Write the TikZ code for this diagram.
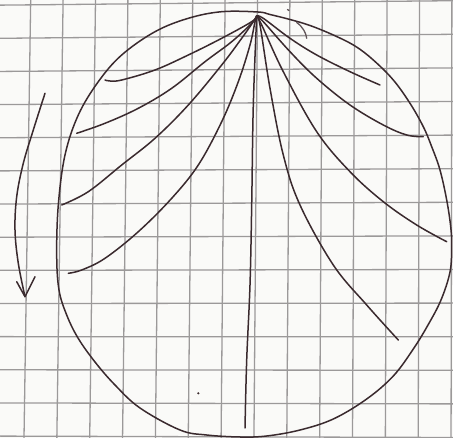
\documentclass[tikz,border=0pt]{standalone}
\begin{document}
\begin{tikzpicture}[x=1pt,y=-1pt,
  gridline/.style={draw=gridc,line width=1.3pt},
  ink/.style={draw=inkc,line width=1.5pt,line cap=round,line join=round},
  faint/.style={draw=inkc!80,line width=1.3pt,line cap=round}]
\definecolor{gridc}{RGB}{155,153,153}
\definecolor{inkc}{RGB}{58,42,46}
\definecolor{paper}{RGB}{250,250,248}
\useasboundingbox (0,0) rectangle (453,438);
\fill[paper] (0,0) rectangle (453,438);
\begin{scope}
\clip (0,0) rectangle (453,438);
\foreach \i in {-1,...,14} \draw[gridline] ({30.7+32.4*\i},0) -- ({24+32.85*\i},438);
\foreach \j in {-2,...,13} \draw[gridline] (0,{38.3+33.15*\j}) -- (453,{34.3+33.6*\j});
\end{scope}
\coordinate (apex) at (256.7,16);
% outer circle
\draw[ink] plot[smooth cycle,tension=0.6] coordinates {
 (258,12) (221.7,11.7) (188.3,18.3) (155,31.7) (121.7,55) (98.3,81.7) (78.3,115)
 (65,155) (58.3,205) (56.7,255) (59,290) (66.7,315) (78,338) (95,362) (115,385)
 (140,408) (180,430) (206.7,435) (240,437) (266.7,436) (300,430) (333.3,419)
 (366.7,399) (393.3,376) (413.3,349) (428,325) (441,300) (450,272) (451.7,246.7)
 (450.7,226.7) (446.7,200) (440,170) (431.7,146.7) (423.3,126.7) (410,103.3)
 (393.3,80) (373.3,60) (355,46) (333.3,35) (310,25.5) (290,19.5) (270,14.5)};
% small marks near top
\draw[faint] (296.7,22.5) .. controls (303,27) and (306,33) .. (306.7,38.3);
\draw[faint] (287.5,9.5) -- (289,10.5);
% left rays
\draw[ink] plot[smooth,tension=0.6] coordinates {(256.7,16) (251.7,21.7) (221.7,38.3) (188.3,55) (155,70) (121.7,80) (110,81) (105,80)};
\draw[ink] plot[smooth,tension=0.6] coordinates {(256.7,16) (251.7,23.3) (231.7,41.7) (205,61.7) (171.7,88.3) (138.3,108.3) (105,123.3) (76.7,133.3)};
\draw[ink] plot[smooth,tension=0.6] coordinates {(256.7,16) (253.3,21.7) (241.7,38.3) (221.7,65) (188.3,105) (155,138.3) (121.7,165) (88.3,191.7) (61.7,205)};
\draw[ink] plot[smooth,tension=0.6] coordinates {(256.7,16) (255,21.7) (250,45) (238.3,81.7) (221.7,121.7) (198.3,165) (171.7,198.3) (138.3,231.7) (105,258.3) (81.7,270) (68.3,273.3)};
% centre ray
\draw[ink] plot[smooth,tension=0.6] coordinates {(256.7,16) (253.3,105) (251.7,205) (250,285) (246.7,360) (245,428)};
% right rays
\draw[ink] plot[smooth,tension=0.6] coordinates {(256.7,16) (263.3,18.3) (290,38.3) (316.7,55) (350,71.7) (380,85)};
\draw[ink] plot[smooth,tension=0.6] coordinates {(256.7,16) (263.3,21.7) (290,51.7) (316.7,78.3) (350,105) (383.3,125) (406.7,135) (423.3,136.7)};
\draw[ink] plot[smooth,tension=0.6] coordinates {(256.7,16) (261.7,25) (283.3,71.7) (316.7,131.7) (350,171.7) (383.3,201.7) (416.7,225) (446.7,241.7)};
\draw[ink] plot[smooth,tension=0.6] coordinates {(256.7,16) (260,25) (270,88.3) (283.3,155) (300,205) (333.3,265) (366.7,305) (398.3,340)};
% arrow on the left
\draw[ink] plot[smooth,tension=0.6] coordinates {(45,93.3) (33.3,130) (23.3,163.3) (16.7,196.7) (15,230) (18.3,263.3) (25,296.7)};
\coordinate (tip) at (25,296.7);
\draw[ink] (16.7,281.7) -- (tip) -- (35,276.7);
% dot
\fill[inkc] (198.3,393.3) circle (1.2);
\end{tikzpicture}
\end{document}
